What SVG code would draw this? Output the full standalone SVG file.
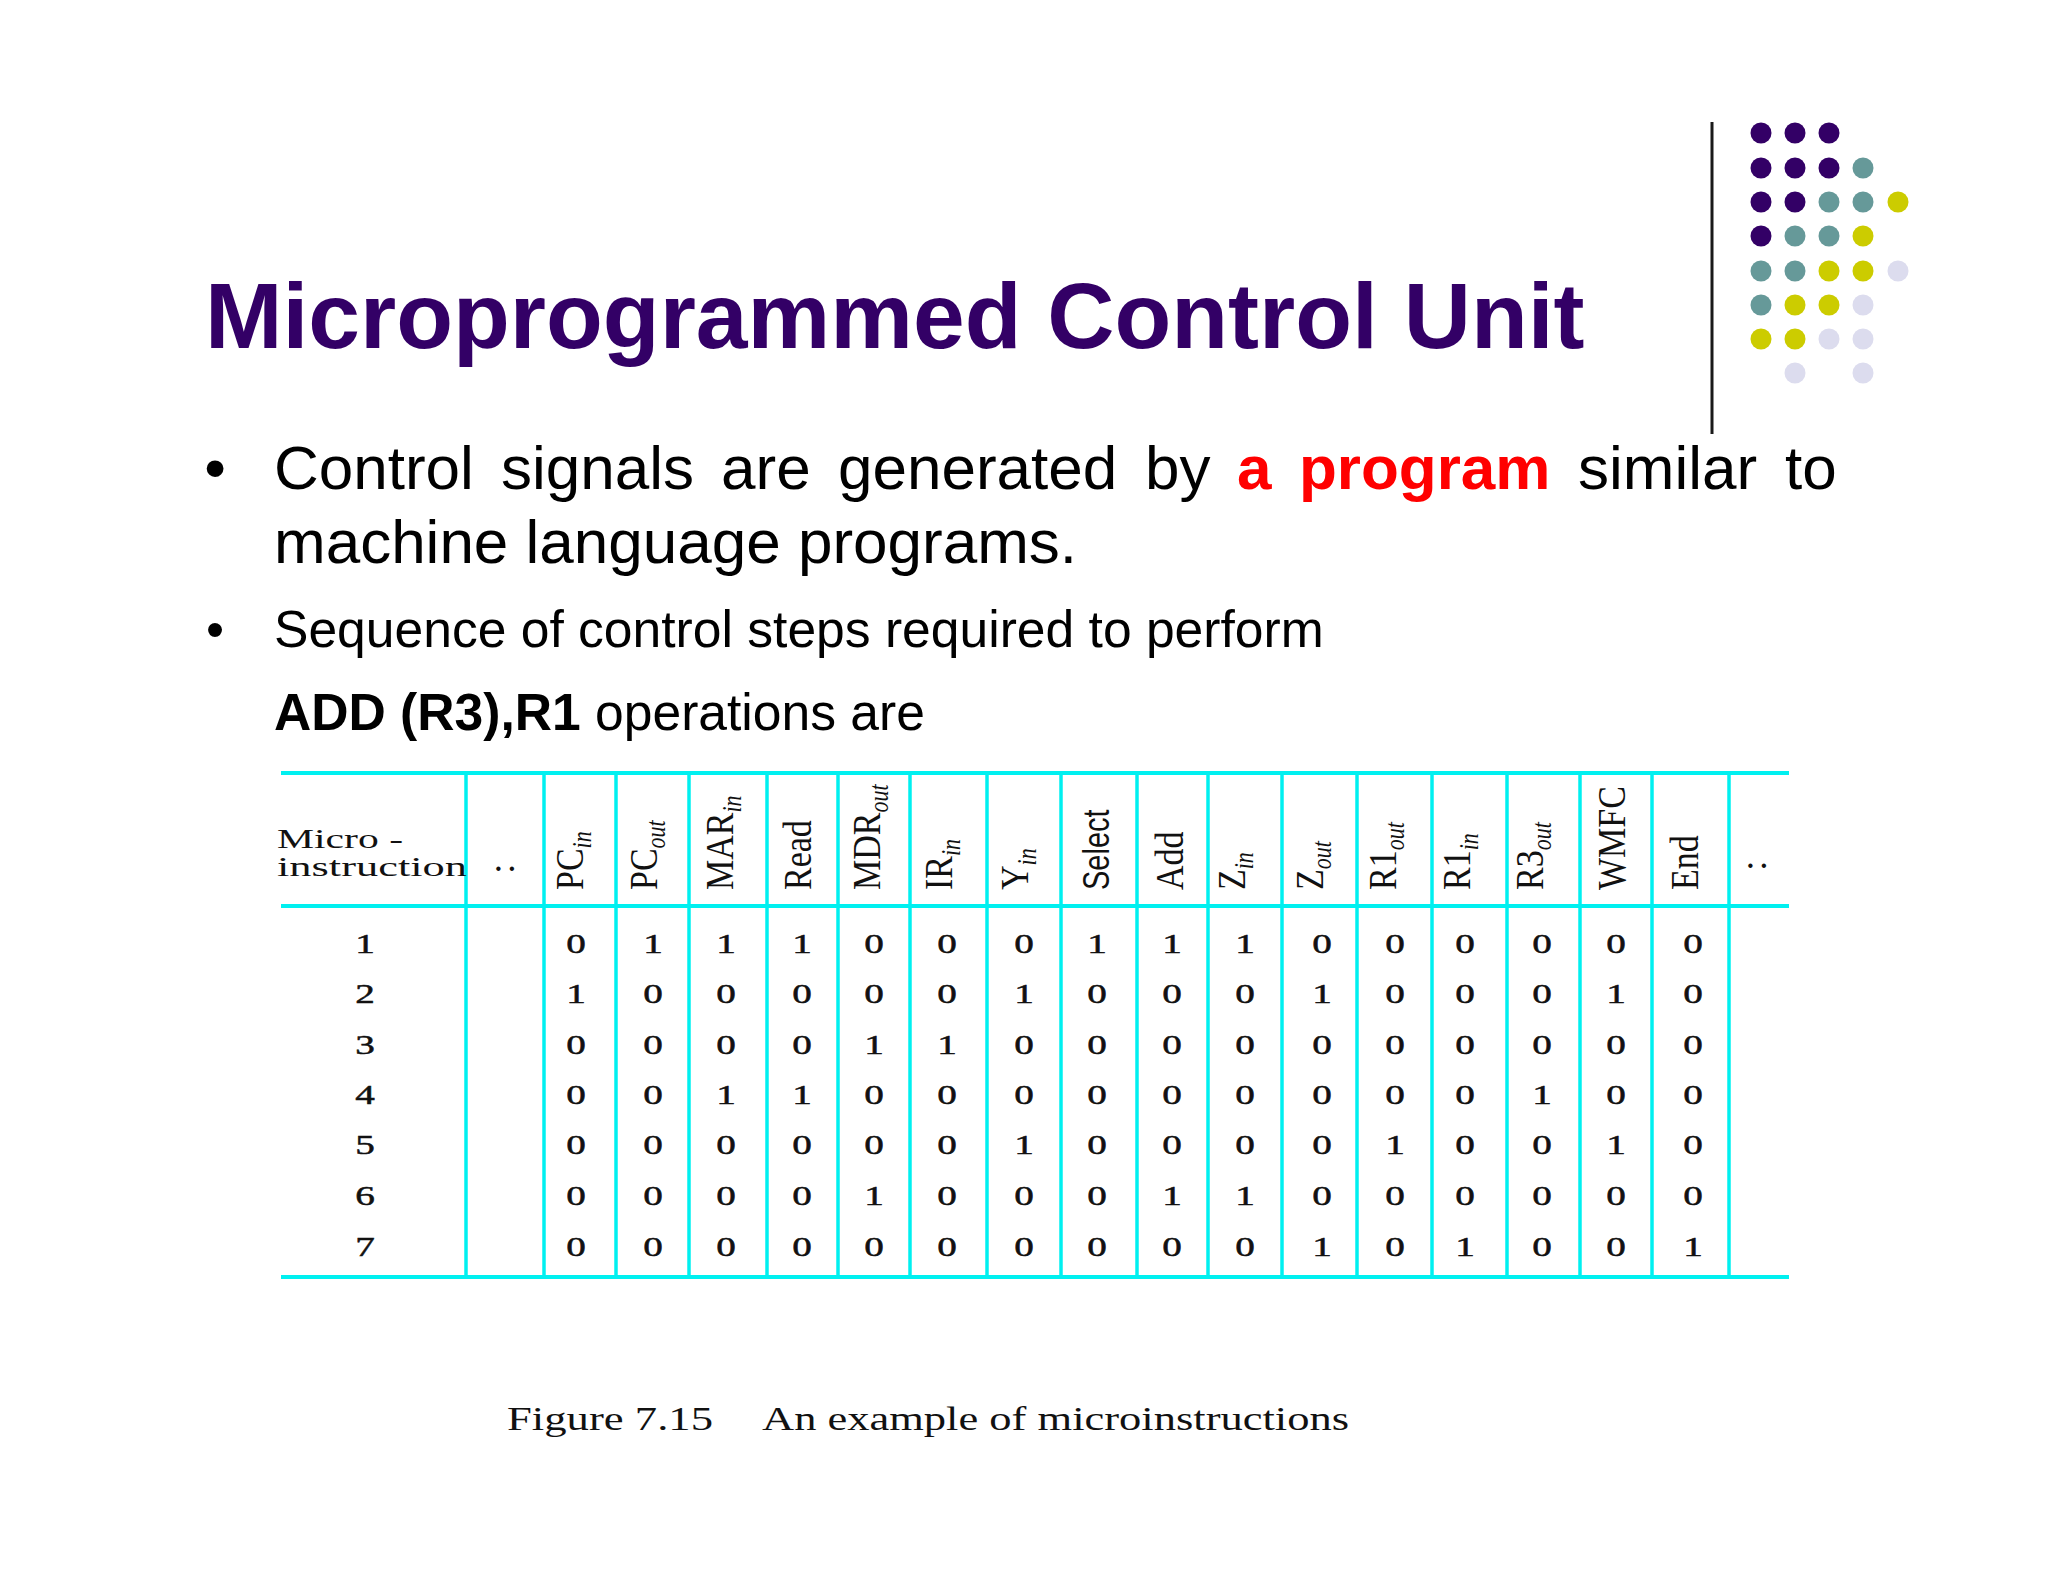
<svg xmlns="http://www.w3.org/2000/svg" width="2048" height="1582" viewBox="0 0 2048 1582">
<style>
.title{font-family:"Liberation Sans",Arial,sans-serif;font-weight:bold;font-size:93px;fill:#330066}
.b1{font-family:"Liberation Sans",Arial,sans-serif;font-size:62px;fill:#000}
.b2{font-family:"Liberation Sans",Arial,sans-serif;font-size:51.6px;fill:#000}
.red{fill:#ff0000;font-weight:bold}
.bold{font-weight:bold}
.tl{stroke:#00f0f0;fill:none}
.h{stroke-width:4}
.v{stroke-width:3.5}
.hd{font-family:"Liberation Serif","Times New Roman",serif;font-size:34px;fill:#111}
.hds{font-family:"Liberation Sans",Arial,sans-serif;font-size:29px;fill:#111}
.sub{font-size:22px;font-style:italic}
.dg{font-family:"Liberation Serif","Times New Roman",serif;font-size:28px;fill:#111;stroke:#111;stroke-width:0.5;text-anchor:middle}
.mi{font-family:"Liberation Serif","Times New Roman",serif;font-size:27px;fill:#111}
.cap{font-family:"Liberation Serif","Times New Roman",serif;font-size:33px;fill:#111}
.pu{fill:#330066}.te{fill:#669999}.ye{fill:#cccc00}.la{fill:#dcdcee}
</style>

<g id="title">
<text class="title" x="205" y="348">Microprogrammed Control Unit</text>
</g>

<g id="decoration">
<line x1="1712" y1="122" x2="1712" y2="434" stroke="#1a1a1a" stroke-width="3"/>
<g id="dots">
<circle class="pu" cx="1761" cy="133" r="10.5"/><circle class="pu" cx="1795" cy="133" r="10.5"/><circle class="pu" cx="1829" cy="133" r="10.5"/>
<circle class="pu" cx="1761" cy="168" r="10.5"/><circle class="pu" cx="1795" cy="168" r="10.5"/><circle class="pu" cx="1829" cy="168" r="10.5"/><circle class="te" cx="1863" cy="168" r="10.5"/>
<circle class="pu" cx="1761" cy="202" r="10.5"/><circle class="pu" cx="1795" cy="202" r="10.5"/><circle class="te" cx="1829" cy="202" r="10.5"/><circle class="te" cx="1863" cy="202" r="10.5"/><circle class="ye" cx="1898" cy="202" r="10.5"/>
<circle class="pu" cx="1761" cy="236" r="10.5"/><circle class="te" cx="1795" cy="236" r="10.5"/><circle class="te" cx="1829" cy="236" r="10.5"/><circle class="ye" cx="1863" cy="236" r="10.5"/>
<circle class="te" cx="1761" cy="271" r="10.5"/><circle class="te" cx="1795" cy="271" r="10.5"/><circle class="ye" cx="1829" cy="271" r="10.5"/><circle class="ye" cx="1863" cy="271" r="10.5"/><circle class="la" cx="1898" cy="271" r="10.5"/>
<circle class="te" cx="1761" cy="305" r="10.5"/><circle class="ye" cx="1795" cy="305" r="10.5"/><circle class="ye" cx="1829" cy="305" r="10.5"/><circle class="la" cx="1863" cy="305" r="10.5"/>
<circle class="ye" cx="1761" cy="339" r="10.5"/><circle class="ye" cx="1795" cy="339" r="10.5"/><circle class="la" cx="1829" cy="339" r="10.5"/><circle class="la" cx="1863" cy="339" r="10.5"/>
<circle class="la" cx="1795" cy="373" r="10.5"/><circle class="la" cx="1863" cy="373" r="10.5"/>
</g>
</g>

<g id="bullets">
<text class="b1" x="215" y="489" text-anchor="middle">•</text>
<text class="b1" y="489"><tspan x="274">Control</tspan><tspan x="501">signals</tspan><tspan x="721">are</tspan><tspan x="838">generated</tspan><tspan x="1145">by</tspan><tspan x="1237" class="red">a</tspan><tspan x="1299" class="red">program</tspan><tspan x="1578">similar</tspan><tspan x="1785">to</tspan></text>
<text class="b1" x="274" y="563">machine language programs.</text>
<text class="b2" x="215" y="647" text-anchor="middle">•</text>
<text class="b2" x="274" y="647">Sequence of control steps required to perform</text>
<text class="b2" x="274" y="730"><tspan class="bold">ADD (R3),R1</tspan> operations are</text>
</g>

<g id="table-lines" class="tl">
<line class="h" x1="281" y1="773" x2="1789" y2="773"/>
<line class="h" x1="281" y1="906" x2="1789" y2="906"/>
<line class="h" x1="281" y1="1277" x2="1789" y2="1277"/>
<line class="v" x1="466" y1="771" x2="466" y2="1279"/>
<line class="v" x1="544" y1="771" x2="544" y2="1279"/>
<line class="v" x1="616" y1="771" x2="616" y2="1279"/>
<line class="v" x1="689" y1="771" x2="689" y2="1279"/>
<line class="v" x1="767" y1="771" x2="767" y2="1279"/>
<line class="v" x1="838" y1="771" x2="838" y2="1279"/>
<line class="v" x1="910" y1="771" x2="910" y2="1279"/>
<line class="v" x1="987" y1="771" x2="987" y2="1279"/>
<line class="v" x1="1061" y1="771" x2="1061" y2="1279"/>
<line class="v" x1="1137" y1="771" x2="1137" y2="1279"/>
<line class="v" x1="1208" y1="771" x2="1208" y2="1279"/>
<line class="v" x1="1282" y1="771" x2="1282" y2="1279"/>
<line class="v" x1="1357" y1="771" x2="1357" y2="1279"/>
<line class="v" x1="1432" y1="771" x2="1432" y2="1279"/>
<line class="v" x1="1507" y1="771" x2="1507" y2="1279" stroke-width="4.5"/>
<line class="v" x1="1580" y1="771" x2="1580" y2="1279"/>
<line class="v" x1="1652" y1="771" x2="1652" y2="1279"/>
<line class="v" x1="1729" y1="771" x2="1729" y2="1279"/>
</g>

<g id="table-header">
<text class="mi" x="277" y="848" textLength="126" lengthAdjust="spacingAndGlyphs">Micro -</text>
<text class="mi" x="277" y="876" textLength="190" lengthAdjust="spacingAndGlyphs">instruction</text>
<text class="mi" x="505" y="871" text-anchor="middle" font-weight="bold">. .</text>
<text class="mi" x="1757" y="868" text-anchor="middle" font-weight="bold">. .</text>
<text class="hd" transform="translate(583,890) rotate(-90) scale(1,1.2)">PC<tspan class="sub" dy="7">in</tspan></text>
<text class="hd" transform="translate(657,890) rotate(-90) scale(1,1.2)">PC<tspan class="sub" dy="7">out</tspan></text>
<text class="hd" transform="translate(733,890) rotate(-90) scale(1,1.2)">MAR<tspan class="sub" dy="7">in</tspan></text>
<text class="hd" transform="translate(811,890) rotate(-90) scale(1,1.2)">Read</text>
<text class="hd" transform="translate(880,890) rotate(-90) scale(1,1.2)">MDR<tspan class="sub" dy="7">out</tspan></text>
<text class="hd" transform="translate(952,890) rotate(-90) scale(1,1.2)">IR<tspan class="sub" dy="7">in</tspan></text>
<text class="hd" transform="translate(1028,890) rotate(-90) scale(1,1.2)">Y<tspan class="sub" dy="7">in</tspan></text>
<text class="hds" transform="translate(1109,890) rotate(-90) scale(1,1.25)">Select</text>
<text class="hd" transform="translate(1183,890) rotate(-90) scale(1,1.2)">Add</text>
<text class="hd" transform="translate(1245,890) rotate(-90) scale(1,1.2)">Z<tspan class="sub" dy="7">in</tspan></text>
<text class="hd" transform="translate(1323,890) rotate(-90) scale(1,1.2)">Z<tspan class="sub" dy="7">out</tspan></text>
<text class="hd" transform="translate(1396,890) rotate(-90) scale(1,1.2)">R1<tspan class="sub" dy="7">out</tspan></text>
<text class="hd" transform="translate(1470,890) rotate(-90) scale(1,1.2)">R1<tspan class="sub" dy="7">in</tspan></text>
<text class="hd" transform="translate(1543,890) rotate(-90) scale(1,1.2)">R3<tspan class="sub" dy="7">out</tspan></text>
<text class="hd" transform="translate(1625,890) rotate(-90) scale(1,1.2)">WMFC</text>
<text class="hd" transform="translate(1698,890) rotate(-90) scale(1,1.2)">End</text>
</g>

<g id="table-data" transform="scale(1.4,1)">
<text class="dg" x="260.7" y="953">1</text>
<text class="dg" x="260.7" y="1003">2</text>
<text class="dg" x="260.7" y="1054">3</text>
<text class="dg" x="260.7" y="1104">4</text>
<text class="dg" x="260.7" y="1154">5</text>
<text class="dg" x="260.7" y="1205">6</text>
<text class="dg" x="260.7" y="1256">7</text>
<text class="dg" y="953" x="411.4 466.4 518.6 572.9 624.3 676.4 731.4 783.6 837.1 889.3 944.3 996.4 1046.4 1101.4 1154.3 1209.3">0111000111000000</text>
<text class="dg" y="1003" x="411.4 466.4 518.6 572.9 624.3 676.4 731.4 783.6 837.1 889.3 944.3 996.4 1046.4 1101.4 1154.3 1209.3">1000001000100010</text>
<text class="dg" y="1054" x="411.4 466.4 518.6 572.9 624.3 676.4 731.4 783.6 837.1 889.3 944.3 996.4 1046.4 1101.4 1154.3 1209.3">0000110000000000</text>
<text class="dg" y="1104" x="411.4 466.4 518.6 572.9 624.3 676.4 731.4 783.6 837.1 889.3 944.3 996.4 1046.4 1101.4 1154.3 1209.3">0011000000000100</text>
<text class="dg" y="1154" x="411.4 466.4 518.6 572.9 624.3 676.4 731.4 783.6 837.1 889.3 944.3 996.4 1046.4 1101.4 1154.3 1209.3">0000001000010010</text>
<text class="dg" y="1205" x="411.4 466.4 518.6 572.9 624.3 676.4 731.4 783.6 837.1 889.3 944.3 996.4 1046.4 1101.4 1154.3 1209.3">0000100011000000</text>
<text class="dg" y="1256" x="411.4 466.4 518.6 572.9 624.3 676.4 731.4 783.6 837.1 889.3 944.3 996.4 1046.4 1101.4 1154.3 1209.3">0000000000101001</text>
</g>

<g id="caption">
<text class="cap" x="507" y="1430" textLength="206" lengthAdjust="spacingAndGlyphs">Figure 7.15</text>
<text class="cap" x="762" y="1430" textLength="587" lengthAdjust="spacingAndGlyphs">An example of microinstructions</text>
</g>
</svg>
